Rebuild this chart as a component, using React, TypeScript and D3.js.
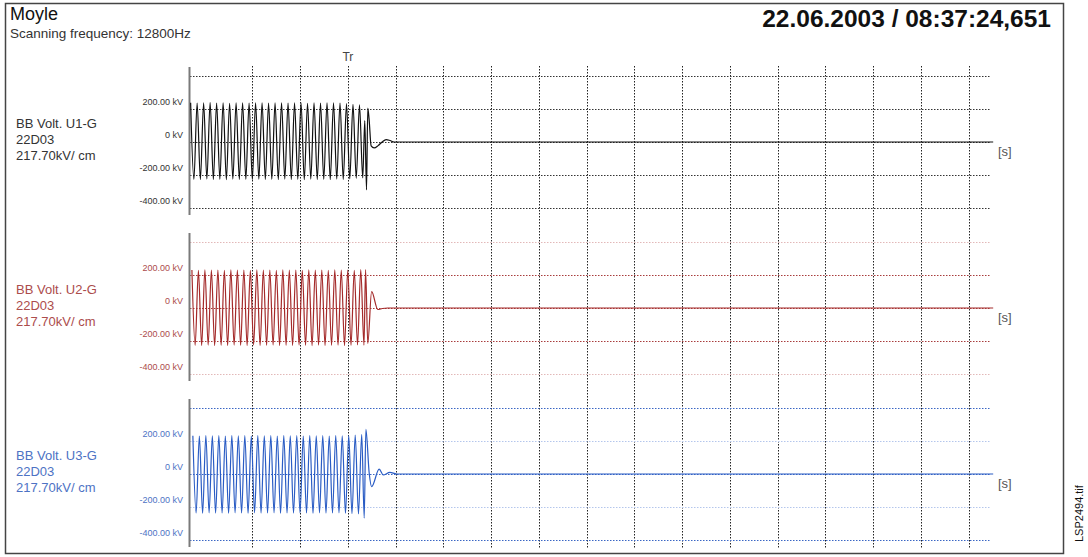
import React from 'react';
import * as d3 from 'd3';

// ---------- texts ----------
const TITLE = 'Moyle';
const SUBTITLE = 'Scanning frequency: 12800Hz';
const TIMESTAMP = '22.06.2003 / 08:37:24,651';
const TRIGGER_LABEL = 'Tr';
const UNIT_LABEL = '[s]';
const FILE_LABEL = 'LSP2494.tif';

const CHANNEL_NAMES = ['BB Volt. U1-G', 'BB Volt. U2-G', 'BB Volt. U3-G'];
const CHANNEL_IDS = ['22D03', '22D03', '22D03'];
const CHANNEL_SCALES = ['217.70kV/ cm', '217.70kV/ cm', '217.70kV/ cm'];

// ---------- axes ----------
const Y_LEVELS = [400, 200, 0, -200, -400];
const Y_TICK_LABELS = ['', '200.00 kV', '0 kV', '-200.00 kV', '-400.00 kV'];
const TIME_DOMAIN = [-0.496, 2.017]; // seconds, Tr = 0
const GRID_TIMES = [-0.3, -0.15, 0, 0.15, 0.3, 0.45, 0.6, 0.75, 0.9, 1.05, 1.2, 1.35, 1.5, 1.65, 1.8, 1.95];

// ---------- series (kV) ----------
const HALF_PERIOD = 0.0102; // s between successive extrema

const U1_START = -0.494;
const U1_EXTREMA = [
  238, -226, 236, -228, 237, -225, 239, -227, 236, -226,
  238, -228, 235, -225, 237, -227, 238, -226, 236, -228,
  237, -225, 238, -227, 236, -226, 237, -228, 238, -225,
  236, -227, 237, -226, 238, -228, 235, -225, 237, -227,
  236, -226, 238, -228, 237, -225, 236, -227, 232, -224,
  228, -220, 225, -218,
];
const U1_TAIL: [number, number][] = [
  [0.053, 130], [0.0585, -290], [0.0625, 206], [0.0665, 140], [0.073, -24],
  [0.0824, -36], [0.095, -22], [0.1075, 0], [0.12, 15], [0.1326, 9],
  [0.145, 0], [2.027, 0],
];

const U2_START = -0.49;
const U2_EXTREMA = [
  230, -226, 228, -227, 231, -225, 229, -228, 230, -226,
  228, -227, 231, -225, 229, -226, 230, -228, 228, -225,
  231, -227, 229, -226, 230, -225, 228, -228, 231, -226,
  229, -227, 230, -225, 228, -226, 231, -228, 229, -225,
  230, -227, 228, -226, 231, -225, 229, -228, 230, -226,
  228, -224, 232,
];
const U2_TAIL: [number, number][] = [
  [0.0505, -225], [0.0555, 232], [0.0625, -215], [0.0745, 99], [0.094, -9],
  [0.108, -3], [0.125, 0], [2.027, 0],
];

const U3_START = -0.487;
const U3_EXTREMA = [
  232, -236, 230, -238, 233, -235, 231, -237, 232, -236,
  230, -238, 233, -235, 231, -236, 232, -238, 230, -235,
  233, -237, 231, -236, 232, -235, 230, -238, 233, -236,
  231, -237, 232, -235, 230, -236, 233, -238, 231, -235,
  232, -237, 230, -236, 233, -235, 231, -238, 232, -240,
  236, -242, 240,
];
const U3_TAIL: [number, number][] = [
  [0.0512, -267], [0.0565, 271], [0.0669, 5], [0.0745, -77], [0.0983, 29],
  [0.1109, -6], [0.1319, 10], [0.153, 0], [2.027, 0],
];

// ---------- styling ----------
const FONT = '"Liberation Sans", Arial, Helvetica, sans-serif';

type Panel = {
  zero: number;
  wave: string;
  text: string;
  gridColors: string[]; // per Y_LEVELS
  start: number;
  extrema: number[];
  tail: [number, number][];
};

const PANELS: Panel[] = [
  {
    zero: 142, wave: '#111111', text: '#333333',
    gridColors: ['#333', '#333', '#333', '#333', '#333'],
    start: U1_START, extrema: U1_EXTREMA, tail: U1_TAIL,
  },
  {
    zero: 308, wave: '#a42a2a', text: '#ac4c4c',
    gridColors: ['#e2b8b8', '#a83c3c', '#a83c3c', '#a83c3c', '#e2b8b8'],
    start: U2_START, extrema: U2_EXTREMA, tail: U2_TAIL,
  },
  {
    zero: 474, wave: '#2a5cc4', text: '#4d72c4',
    gridColors: ['#3a66c4', '#b4c6ec', '#3a66c4', '#b4c6ec', '#3a66c4'],
    start: U3_START, extrema: U3_EXTREMA, tail: U3_TAIL,
  },
];

const PLOT_LEFT = 190;
const PLOT_RIGHT = 990;
const HALF_SPAN = 66; // px for 400 kV

export default function App() {
  const x = d3.scaleLinear().domain(TIME_DOMAIN).range([PLOT_LEFT, PLOT_RIGHT]);

  return (
    <svg
      width={1088}
      height={557}
      style={{ position: 'absolute', left: 0, top: 0, background: '#fff' }}
      fontFamily={FONT}
    >
      <rect x={0} y={0} width={1088} height={557} fill="#fff" />
      {/* frame */}
      <rect x={5.5} y={3.5} width={1058} height={550} fill="none" stroke="#444" strokeWidth={1.5} />

      {/* header */}
      <text x={10} y={20} fontSize={18} fill="#111">{TITLE}</text>
      <text x={10} y={38} fontSize={13.5} fill="#333">{SUBTITLE}</text>
      <text x={1051} y={27} fontSize={24.5} fontWeight="bold" textAnchor="end" fill="#111">{TIMESTAMP}</text>

      {/* trigger label */}
      <text x={x(0)} y={61} fontSize={12} textAnchor="middle" fill="#444">{TRIGGER_LABEL}</text>

      {/* vertical grid */}
      {GRID_TIMES.map((t, i) => (
        <line
          key={'vg' + i}
          x1={Math.round(x(t)) + 0.5}
          x2={Math.round(x(t)) + 0.5}
          y1={66}
          y2={548}
          stroke="#222"
          strokeWidth={1}
          strokeDasharray="1.5,1.5"
        />
      ))}

      {PANELS.map((p, pi) => {
        const y = d3.scaleLinear().domain([-400, 400]).range([p.zero + HALF_SPAN, p.zero - HALF_SPAN]);
        const pts: [number, number][] = p.extrema
          .map((v, k) => [p.start + k * HALF_PERIOD, v] as [number, number])
          .concat(p.tail);
        const line = d3
          .line<[number, number]>()
          .x((d) => x(d[0]))
          .y((d) => y(d[1]))
          .curve(d3.curveMonotoneX);
        return (
          <g key={'p' + pi}>
            {/* horizontal grid */}
            {Y_LEVELS.map((lv, li) => (
              <line
                key={'hg' + li}
                x1={PLOT_LEFT}
                x2={PLOT_RIGHT}
                y1={Math.round(y(lv)) + 0.5}
                y2={Math.round(y(lv)) + 0.5}
                stroke={p.gridColors[li]}
                strokeWidth={1}
                strokeDasharray="1.5,1.5"
              />
            ))}
            {/* tick labels */}
            {Y_LEVELS.map((lv, li) =>
              Y_TICK_LABELS[li] ? (
                <text key={'tl' + li} x={183} y={y(lv) - 4} fontSize={9} textAnchor="end" fill={p.text}>
                  {Y_TICK_LABELS[li]}
                </text>
              ) : null
            )}
            {/* axis */}
            <line
              x1={189.5}
              x2={189.5}
              y1={p.zero - HALF_SPAN - 9}
              y2={p.zero + HALF_SPAN + 7}
              stroke="#7a7a7a"
              strokeWidth={2}
            />
            {/* waveform */}
            <path d={line(pts) || ''} fill="none" stroke={p.wave} strokeWidth={1.2} />
            {/* unit */}
            <text x={998} y={p.zero + 14} fontSize={13} fill="#555">{UNIT_LABEL}</text>
            {/* channel labels */}
            <g fontSize={13} fill={p.text}>
              <text x={16} y={p.zero - 14}>{CHANNEL_NAMES[pi]}</text>
              <text x={16} y={p.zero + 2}>{CHANNEL_IDS[pi]}</text>
              <text x={16} y={p.zero + 18}>{CHANNEL_SCALES[pi]}</text>
            </g>
          </g>
        );
      })}

      {/* file label */}
      <text transform="translate(1083,542) rotate(-90)" fontSize={11} fill="#111">{FILE_LABEL}</text>
    </svg>
  );
}
